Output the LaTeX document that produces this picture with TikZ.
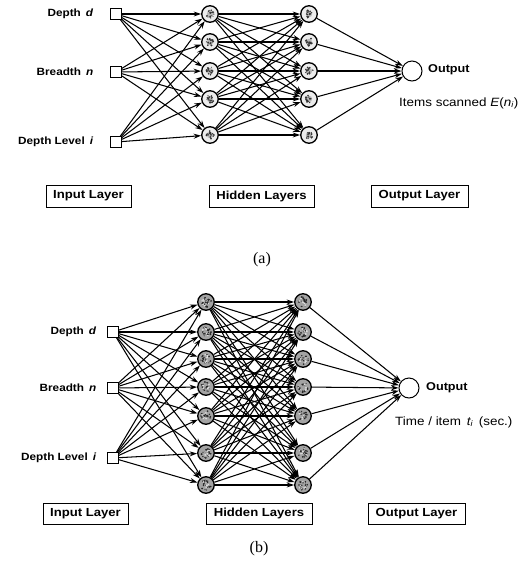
\documentclass[tikz,border=0pt]{standalone}
\usepackage{fontspec}
\setmainfont{Liberation Serif}
\newfontfamily\lblfont[FakeStretch=1.12]{Liberation Sans}
\usetikzlibrary{arrows.meta}
% speckled halftone inside a hidden unit: node name, dot colour, dot count, spread
\newcommand\hidtexture[4]{%
  \foreach \n in {1,...,#3}{%
    \pgfmathsetmacro\ang{360*rnd}%
    \pgfmathsetmacro\rad{#4*sqrt(rnd)}%
    \pgfmathsetmacro\sz{0.5+0.6*rnd}%
    \fill[#2] (#1.center) ++(\ang:\rad) circle[radius=\sz];
  }}
\begin{document}
\begin{tikzpicture}[x=1pt,y=-1pt,
  conn/.style={line width=1.05pt,-{Stealth[length=7.5pt,width=5pt]}},
  inbox/.style={draw,line width=0.9pt,minimum size=11pt,inner sep=0pt,fill=white},
  hid/.style={draw,circle,line width=1.3pt,minimum size=16.5pt,inner sep=0pt},
  hida/.style={hid,fill=gray!15},
  hidb/.style={hid,fill=gray!72},
  outnode/.style={draw,circle,line width=1pt,minimum size=20pt,inner sep=0pt,fill=white},
  inlabel/.style={anchor=east,inner sep=0pt,font=\lblfont\bfseries\fontsize{10.5}{12}\selectfont},
  outlabel/.style={anchor=west,inner sep=0pt,font=\lblfont\bfseries\fontsize{11.3}{13}\selectfont},
  note/.style={anchor=west,inner sep=0pt,font=\lblfont\fontsize{12}{14}\selectfont},
  layerbox/.style={draw,line width=0.8pt,minimum height=22pt,inner sep=0pt,
    font=\lblfont\bfseries\fontsize{11.7}{13}\selectfont},
  caption/.style={inner sep=0pt,font=\fontsize{16}{18}\selectfont}
]
\useasboundingbox (0,0) rectangle (523,566);
\pgfmathsetseed{4711}

% ---------------- network (a) ----------------
\node[inbox] (a-in1) at (116,14) {};
\node[inbox] (a-in2) at (116,72) {};
\node[inbox] (a-in3) at (116,142) {};
\node[inlabel] (a-l1) at (93.5,14) {Depth \,\textit{d}};
\node[inlabel] (a-l2) at (93.5,72) {Breadth \,\textit{n}};
\node[inlabel] (a-l3) at (93.5,142) {Depth Level \,\textit{i}};

\foreach \y [count=\k] in {14,42,71,99,135} {
  \node[hida] (a-h1-\k) at (210,\y) {};
  \node[hida] (a-h2-\k) at (309,\y) {};
}
\foreach \k in {1,...,5} {
  \fill[gray!55] (a-h1-\k.center) circle[radius=3.2];
  \fill[gray!55] (a-h2-\k.center) circle[radius=3.2];
  \hidtexture{a-h1-\k}{black!80}{16}{4}
  \hidtexture{a-h2-\k}{black!80}{16}{4}
}
\node[outnode] (a-out) at (412,71) {};
\node[outlabel] (a-ot) at (428,70) {Output};
\node[note] (a-note) at (399,103) {Items scanned \textit{E}(\textit{n\textsubscript{i}})};

\foreach \i in {1,2,3} \foreach \j in {1,...,5} \draw[conn] (a-in\i) -- (a-h1-\j);
\foreach \i in {1,...,5} \foreach \j in {1,...,5} \draw[conn] (a-h1-\i) -- (a-h2-\j);
\foreach \i in {1,...,5} \draw[conn] (a-h2-\i) -- (a-out);

\node[layerbox,minimum width=85pt] (a-b1) at (88.5,196) {Input Layer};
\node[layerbox,minimum width=105pt] (a-b2) at (261.5,196) {Hidden Layers};
\node[layerbox,minimum width=97pt] (a-b3) at (419.5,196) {Output Layer};
\node[caption] (a-cap) at (262,260) {(a)};

% ---------------- network (b) ----------------
\node[inbox] (b-in1) at (113,332) {};
\node[inbox] (b-in2) at (113,388) {};
\node[inbox] (b-in3) at (113,458) {};
\node[inlabel] (b-l1) at (96.5,332) {Depth \,\textit{d}};
\node[inlabel] (b-l2) at (96.5,388) {Breadth \,\textit{n}};
\node[inlabel] (b-l3) at (96.5,458) {Depth Level \,\textit{i}};

\foreach \y [count=\k] in {302,332,359,387,416,453,485} {
  \node[hidb] (b-h1-\k) at (206,\y) {};
  \node[hidb] (b-h2-\k) at (303,\y) {};
}
\foreach \k in {1,...,7} {
  \hidtexture{b-h1-\k}{black!85}{18}{5.2}
  \hidtexture{b-h1-\k}{gray!25}{7}{4.5}
  \hidtexture{b-h2-\k}{black!85}{18}{5.2}
  \hidtexture{b-h2-\k}{gray!25}{7}{4.5}
}
\node[outnode] (b-out) at (409,388) {};
\node[outlabel] (b-ot) at (426,388) {Output};
\node[note] (b-note) at (395,422) {Time / item \,\textit{t\textsubscript{i}}\, (sec.)};

\foreach \i in {1,2,3} \foreach \j in {1,...,7} \draw[conn] (b-in\i) -- (b-h1-\j);
\foreach \i in {1,...,7} \foreach \j in {1,...,7} \draw[conn] (b-h1-\i) -- (b-h2-\j);
\foreach \i in {1,...,7} \draw[conn] (b-h2-\i) -- (b-out);

\node[layerbox,minimum width=85pt,minimum height=21pt] (b-b1) at (85.5,513.5) {Input Layer};
\node[layerbox,minimum width=106pt,minimum height=21pt] (b-b2) at (259,513.5) {Hidden Layers};
\node[layerbox,minimum width=97pt,minimum height=21pt] (b-b3) at (416.5,513.5) {Output Layer};
\node[caption] (b-cap) at (259,549) {(b)};
\end{tikzpicture}
\end{document}
